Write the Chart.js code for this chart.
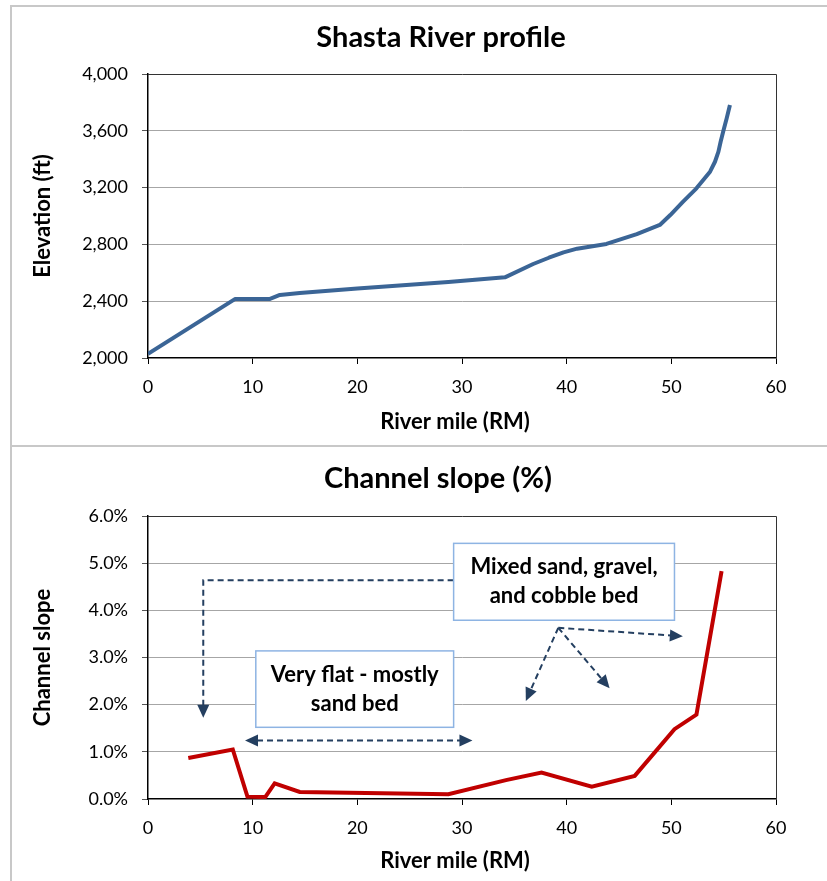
<!DOCTYPE html>
<html>
<head>
<meta charset="utf-8">
<script src="https://cdn.jsdelivr.net/npm/chart.js@4.4.1/dist/chart.umd.min.js"></script>
<style>
  body { margin: 0; background: #fff; width: 827px; height: 881px; overflow: hidden; position: relative; }
  canvas { position: absolute; }
  .rule { position: absolute; background: #c8c8c8; }
</style>
</head>
<body>
<div class="rule" style="left:10px;top:5px;width:2px;height:876px"></div>
<div class="rule" style="left:10px;top:5px;width:817px;height:2px"></div>
<div class="rule" style="left:10px;top:445px;width:817px;height:2px"></div>
<canvas id="profileChart" width="815" height="438" style="left:12px;top:7px"></canvas>
<canvas id="slopeChart" width="815" height="434" style="left:12px;top:447px"></canvas>
<script>
const FONT = 'Lato, "Open Sans", sans-serif';

// river mile axis (both charts)
const mileTicks = [0, 10, 20, 30, 40, 50, 60];

// Shasta River profile
const profileMiles = [0, 8.3, 11.6, 12.6, 14.5, 20, 28.7, 34.1, 36.8, 38.3, 39.7, 41.0, 43.8, 46.7, 48.9, 49.9, 51.1, 52.4, 53.05, 53.7, 54.17, 54.5, 54.71, 54.95, 55.29, 55.6];
const profileElevation = [2030, 2415, 2415, 2444, 2458, 2490, 2535, 2568, 2662, 2706, 2744, 2770, 2803, 2873, 2937, 3007, 3100, 3195, 3253, 3312, 3382, 3453, 3523, 3594, 3688, 3782];
const elevationTicks = [2000, 2400, 2800, 3200, 3600, 4000];

// Channel slope (%)
const slopeMiles = [3.85, 8.1, 9.5, 11.2, 12.1, 14.5, 28.7, 34.2, 37.6, 42.4, 46.5, 50.3, 52.4, 54.8];
const slopePercent = [0.87, 1.05, 0.05, 0.04, 0.33, 0.15, 0.10, 0.40, 0.56, 0.26, 0.49, 1.48, 1.79, 4.83];
const slopeTicks = [0, 1, 2, 3, 4, 5, 6];

// callouts on the slope chart, in data units (mile, %)
const noteBoxes = [
  { x0: 10.3, x1: 29.2, y0: 3.14, y1: 1.52, lines: ['Very flat - mostly', 'sand bed'] },
  { x0: 29.2, x1: 50.3, y0: 5.42, y1: 3.79, lines: ['Mixed sand, gravel,', 'and cobble bed'] }
];
const noteArrows = [
  { path: [[29.2, 4.64], [5.28, 4.64], [5.28, 1.72]], both: false },
  { path: [[9.27, 1.24], [31.0, 1.24]], both: true },
  { path: [[39.2, 3.63], [51.1, 3.45]], both: false },
  { path: [[39.2, 3.63], [36.1, 2.08]], both: false },
  { path: [[39.2, 3.63], [44.1, 2.35]], both: false }
];

function xAxis(height) {
  return {
    type: 'linear',
    min: mileTicks[0],
    max: mileTicks[mileTicks.length - 1],
    afterBuildTicks: s => { s.ticks = mileTicks.map(v => ({ value: v })); },
    ticks: { color: '#000', font: { family: FONT, size: 18 }, padding: 12, maxRotation: 0, autoSkip: false },
    grid: { drawOnChartArea: false, tickLength: 6, tickColor: '#000' },
    border: { color: '#000', width: 1.5 },
    afterFit: s => { s.height = height; }
  };
}

function yAxis(tickVals, fmt, title) {
  const lo = tickVals[0], hi = tickVals[tickVals.length - 1];
  return {
    min: lo,
    max: hi,
    afterBuildTicks: s => { s.ticks = tickVals.map(v => ({ value: v })); },
    ticks: { callback: fmt, color: '#000', font: { family: FONT, size: 18 }, padding: 14, autoSkip: false },
    grid: {
      color: c => (c.tick && (c.tick.value === lo || c.tick.value === hi)) ? 'rgba(0,0,0,0)' : '#a6a6a6',
      tickLength: 6, tickColor: '#555', lineWidth: 1
    },
    border: { color: '#000', width: 1.5 },
    title: { display: true, text: title, color: '#000', font: { family: FONT, size: 22, weight: 'bold' }, padding: { top: 18, bottom: 0 } },
    afterFit: s => { s.width = 136; }
  };
}

// chart title, x axis title and plot frame
const panelText = {
  id: 'panelText',
  afterDraw(chart, args, opts) {
    const { ctx, chartArea: a } = chart;
    ctx.save();
    ctx.strokeStyle = '#333';
    ctx.lineWidth = 1;
    ctx.beginPath();
    ctx.moveTo(a.left, a.top + 0.5);
    ctx.lineTo(a.right + 0.5, a.top + 0.5);
    ctx.lineTo(a.right + 0.5, a.bottom);
    ctx.stroke();
    ctx.fillStyle = '#000';
    ctx.textAlign = 'center';
    ctx.textBaseline = 'middle';
    ctx.font = 'bold 29px ' + FONT;
    ctx.fillText(opts.title, opts.titleX, opts.titleY);
    ctx.font = 'bold 22px ' + FONT;
    ctx.fillText(opts.xTitle, opts.xTitleX, opts.xTitleY);
    ctx.restore();
  }
};

// dashed arrows and text boxes
const callouts = {
  id: 'callouts',
  afterDatasetsDraw(chart) {
    if (!chart.options.plugins.callouts) return;
    const { ctx, scales: { x, y } } = chart;
    const px = p => [x.getPixelForValue(p[0]), y.getPixelForValue(p[1])];
    const headLen = 13, headHalf = 6;
    const head = (tip, from) => {
      const ang = Math.atan2(tip[1] - from[1], tip[0] - from[0]);
      ctx.beginPath();
      ctx.moveTo(tip[0], tip[1]);
      ctx.lineTo(tip[0] - headLen * Math.cos(ang) + headHalf * Math.sin(ang), tip[1] - headLen * Math.sin(ang) - headHalf * Math.cos(ang));
      ctx.lineTo(tip[0] - headLen * Math.cos(ang) - headHalf * Math.sin(ang), tip[1] - headLen * Math.sin(ang) + headHalf * Math.cos(ang));
      ctx.closePath();
      ctx.fill();
    };
    const trim = (a, b, d) => {
      const len = Math.hypot(b[0] - a[0], b[1] - a[1]);
      return [b[0] - (b[0] - a[0]) * d / len, b[1] - (b[1] - a[1]) * d / len];
    };
    ctx.save();
    ctx.strokeStyle = '#243f60';
    ctx.fillStyle = '#243f60';
    ctx.lineWidth = 2;
    noteArrows.forEach(ar => {
      const pts = ar.path.map(px);
      const n = pts.length;
      const line = pts.slice();
      line[n - 1] = trim(pts[n - 2], pts[n - 1], headLen - 1);
      if (ar.both) line[0] = trim(pts[1], pts[0], headLen - 1);
      ctx.setLineDash([6, 4]);
      ctx.beginPath();
      line.forEach((p, i) => i ? ctx.lineTo(p[0], p[1]) : ctx.moveTo(p[0], p[1]));
      ctx.stroke();
      ctx.setLineDash([]);
      head(pts[n - 1], pts[n - 2]);
      if (ar.both) head(pts[0], pts[1]);
    });
    noteBoxes.forEach(b => {
      const [l, t] = px([b.x0, b.y0]);
      const [r, btm] = px([b.x1, b.y1]);
      ctx.fillStyle = '#fff';
      ctx.fillRect(l, t, r - l, btm - t);
      ctx.strokeStyle = '#8eb4e3';
      ctx.lineWidth = 1.5;
      ctx.strokeRect(l, t, r - l, btm - t);
      ctx.fillStyle = '#000';
      ctx.font = 'bold 22px ' + FONT;
      ctx.textAlign = 'center';
      ctx.textBaseline = 'middle';
      const cx = (l + r) / 2, cy = (t + btm) / 2;
      b.lines.forEach((s, i) => ctx.fillText(s, cx, cy + (i - (b.lines.length - 1) / 2) * 29));
    });
    ctx.restore();
  }
};

new Chart(document.getElementById('profileChart').getContext('2d'), {
  type: 'line',
  data: {
    datasets: [{
      data: profileMiles.map((m, i) => ({ x: m, y: profileElevation[i] })),
      borderColor: '#3b6596',
      borderWidth: 4,
      pointRadius: 0,
      tension: 0,
      borderJoinStyle: 'round',
      fill: false
    }]
  },
  options: {
    responsive: false,
    animation: false,
    layout: { padding: { top: 67, right: 51, left: 0, bottom: 0 } },
    scales: {
      x: xAxis(87),
      y: yAxis(elevationTicks, v => v.toLocaleString('en-US'), 'Elevation (ft)')
    },
    plugins: {
      legend: { display: false },
      tooltip: { enabled: false },
      panelText: { title: 'Shasta River profile', titleX: 429, titleY: 31, xTitle: 'River mile (RM)', xTitleX: 443, xTitleY: 415 }
    }
  },
  plugins: [panelText]
});

new Chart(document.getElementById('slopeChart').getContext('2d'), {
  type: 'line',
  data: {
    datasets: [{
      data: slopeMiles.map((m, i) => ({ x: m, y: slopePercent[i] })),
      borderColor: '#c00000',
      borderWidth: 4,
      pointRadius: 0,
      tension: 0,
      fill: false
    }]
  },
  options: {
    responsive: false,
    animation: false,
    layout: { padding: { top: 69, right: 51, left: 0, bottom: 0 } },
    scales: {
      x: xAxis(82),
      y: yAxis(slopeTicks, v => v.toFixed(1) + '%', 'Channel slope')
    },
    plugins: {
      legend: { display: false },
      tooltip: { enabled: false },
      callouts: {},
      panelText: { title: 'Channel slope (%)', titleX: 426, titleY: 32, xTitle: 'River mile (RM)', xTitleX: 443, xTitleY: 414 }
    }
  },
  plugins: [panelText, callouts]
});
</script>
</body>
</html>
